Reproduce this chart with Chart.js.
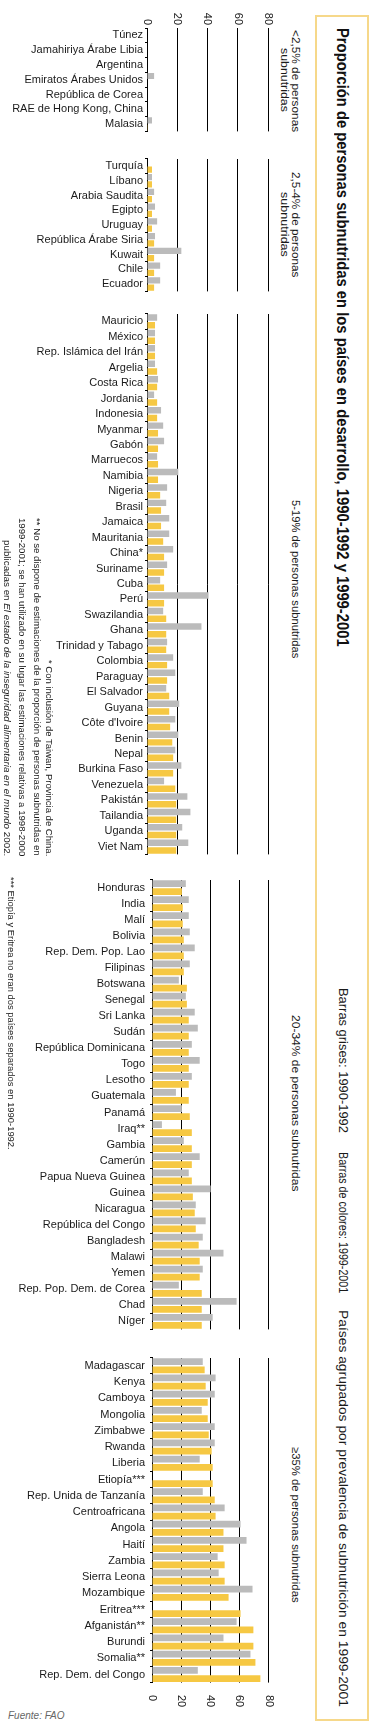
<!DOCTYPE html>
<html>
<head>
<meta charset="utf-8">
<script src="https://cdn.jsdelivr.net/npm/chart.js@4/dist/chart.umd.min.js"></script>
<style>
  html, body { margin: 0; padding: 0; background: #fff; }
  body { position: relative; width: 369px; height: 1725px; overflow: hidden; font-family: "Liberation Sans", Arial, sans-serif; color: #1a1a1a; }
  canvas { position: absolute; left: 0; }
  .vt { position: absolute; writing-mode: vertical-rl; white-space: nowrap; transform-origin: top left; line-height: 1; }
  #box { position: absolute; left: 315px; top: 15px; width: 50px; height: 1702px; border: 2px solid #f6d88a; }
  #src { position: absolute; left: 8px; top: 1710px; font-size: 10px; font-style: italic; color: #666; }
</style>
</head>
<body>
<div id="box"></div>
<div id="src">Fuente: FAO</div>
<canvas id="g1" width="275" height="140" style="top:0px"></canvas>
<canvas id="g2" width="275" height="150" style="top:150px"></canvas>
<canvas id="g3" width="275" height="558" style="top:305px"></canvas>
<canvas id="g4" width="275" height="473" style="top:868px"></canvas>
<canvas id="g5" width="275" height="370" style="top:1346px"></canvas>
<script>
// axis ticks
const xTicks = [0, 20, 40, 60, 80];

// <2,5%
const g1Labels = ['Túnez', 'Jamahiriya Árabe Libia', 'Argentina', 'Emiratos Árabes Unidos', 'República de Corea', 'RAE de Hong Kong, China', 'Malasia'];
const g1Gray = [0, 0, 0, 4.7, 0, 0, 3.3];
const g1Color = [0, 0, 0, 0, 0, 0, 0.5];

// 2,5-4%
const g2Labels = ['Turquía', 'Líbano', 'Arabia Saudita', 'Egipto', 'Uruguay', 'República Árabe Siria', 'Kuwait', 'Chile', 'Ecuador'];
const g2Gray = [0, 3.3, 4.7, 5.3, 6.7, 5.3, 22.7, 8.7, 8.7];
const g2Color = [3.3, 3.3, 3.3, 3.3, 3.3, 4.7, 4.7, 4.7, 4.7];

// 5-19%
const g3Labels = ['Mauricio', 'México', 'Rep. Islámica del Irán', 'Argelia', 'Costa Rica', 'Jordania', 'Indonesia', 'Myanmar', 'Gabón', 'Marruecos',
  'Namibia', 'Nigeria', 'Brasil', 'Jamaica', 'Mauritania', 'China*', 'Suriname', 'Cuba', 'Perú', 'Swazilandia',
  'Ghana', 'Trinidad y Tabago', 'Colombia', 'Paraguay', 'El Salvador', 'Guyana', "Côte d'Ivoire", 'Benin', 'Nepal', 'Burkina Faso',
  'Venezuela', 'Pakistán', 'Tailandia', 'Uganda', 'Viet Nam'];
const g3Gray = [6.7, 5.3, 5.3, 5.3, 7.3, 4.7, 9.3, 10.7, 11.3, 6.7,
  20.7, 13.3, 12.7, 14.7, 14.7, 17.3, 13.3, 8.7, 40.7, 10.7,
  36, 13.3, 17.3, 18.7, 12.7, 21.3, 18.7, 20.7, 18.7, 22.7,
  11.3, 26.7, 28.7, 23.3, 27.3];
const g3Color = [5.3, 5.3, 5.3, 6.7, 6.7, 6.7, 6.7, 7.3, 7.3, 7.3,
  7.3, 8.7, 9.3, 9.3, 10.7, 11.3, 11.3, 11.3, 11.3, 12.7,
  12.7, 12.7, 13.3, 13.3, 14.7, 14.7, 15.3, 16.7, 17.3, 17.3,
  18.7, 19.3, 19.3, 19.3, 19.3];

// 20-34%
const g4Labels = ['Honduras', 'India', 'Malí', 'Bolivia', 'Rep. Dem. Pop. Lao', 'Filipinas', 'Botswana', 'Senegal', 'Sri Lanka', 'Sudán',
  'República Dominicana', 'Togo', 'Lesotho', 'Guatemala', 'Panamá', 'Iraq**', 'Gambia', 'Camerún', 'Papua Nueva Guinea', 'Guinea',
  'Nicaragua', 'República del Congo', 'Bangladesh', 'Malawi', 'Yemen', 'Rep. Pop. Dem. de Corea', 'Chad', 'Níger'];
const g4Gray = [23.2, 25.2, 25.2, 25.9, 29.3, 25.9, 18.4, 23.2, 29.3, 31.4,
  27.3, 32.7, 27.3, 16.4, 20.5, 6.8, 21.8, 32.7, 25.2, 40.2,
  30, 36.8, 34.8, 49, 34.8, 18.4, 58, 41.6];
const g4Color = [20.5, 21.1, 21.1, 21.8, 21.8, 21.8, 23.9, 23.9, 25.2, 25.2,
  25.2, 25.2, 25.2, 25.2, 25.9, 27.3, 27.3, 27.3, 27.3, 28,
  29.3, 30, 32, 32.7, 32.7, 34.1, 34.1, 34.1];

// >=35%
const g5Labels = ['Madagascar', 'Kenya', 'Camboya', 'Mongolia', 'Zimbabwe', 'Rwanda', 'Liberia', 'Etiopía***', 'Rep. Unida de Tanzanía', 'Centroafricana',
  'Angola', 'Haití', 'Zambia', 'Sierra Leona', 'Mozambique', 'Eritrea***', 'Afganistán**', 'Burundi', 'Somalia**', 'Rep. Dem. del Congo'];
const g5Gray = [34.8, 43.6, 43, 34.1, 43, 43, 32.7, null, 34.8, 49.8,
  60.7, 64.8, 45, 45.7, 68.9, null, 58, 49, 67.5, 31.4];
const g5Color = [36.1, 36.8, 38.2, 38.2, 38.9, 40.9, 41.6, 41.6, 43, 43.6,
  49, 49, 49.8, 49.8, 52.5, 60.7, 69.5, 69.5, 70.9, 74.3];

const GRAY = '#bbbbbb';
const YELLOW = '#f6c843';
const FONT = '"Liberation Sans", Arial, sans-serif';

// rotated 0..80 labels, placed with the x scale
const xLabelPlugin = {
  id: 'xLabels',
  afterDraw(chart, args, opts) {
    if (!opts.where) return;
    const ctx = chart.ctx;
    const xs = chart.scales.x;
    ctx.save();
    ctx.font = '11px ' + FONT;
    ctx.fillStyle = '#1a1a1a';
    ctx.textBaseline = 'middle';
    ctx.textAlign = opts.where === 'top' ? 'right' : 'left';
    xTicks.forEach(v => {
      ctx.save();
      ctx.translate(xs.getPixelForValue(v), opts.y);
      ctx.rotate(Math.PI / 2);
      ctx.fillText(String(v), 0, 0);
      ctx.restore();
    });
    ctx.restore();
  }
};

function drawGroup(id, labels, gray, color, o) {
  return new Chart(document.getElementById(id), {
    type: 'bar',
    data: {
      labels: labels,
      datasets: [
        { label: '1990-1992', data: gray, backgroundColor: GRAY, barPercentage: 0.84, categoryPercentage: 1 },
        { label: '1999-2001', data: color, backgroundColor: YELLOW, barPercentage: 0.84, categoryPercentage: 1 }
      ]
    },
    options: {
      indexAxis: 'y',
      responsive: false,
      animation: false,
      layout: { padding: { top: o.top, bottom: o.bottom, left: 0, right: o.right } },
      plugins: {
        legend: { display: false },
        tooltip: { enabled: false },
        xLabels: { where: o.where, y: o.labelY }
      },
      scales: {
        x: {
          position: 'top',
          min: 0,
          max: 80,
          ticks: { display: false, stepSize: 20 },
          grid: { color: '#000', lineWidth: 1, drawTicks: false },
          border: { display: false },
          afterFit: s => { s.height = 0; }
        },
        y: {
          ticks: { autoSkip: false, color: '#1a1a1a', padding: o.pad, font: { family: FONT, size: 11 } },
          grid: { drawOnChartArea: false, tickLength: 2, color: '#000' },
          border: { color: '#000', width: 1 },
          afterFit: s => { s.width = o.axis; }
        }
      }
    },
    plugins: [xLabelPlugin]
  });
}

drawGroup('g1', g1Labels, g1Gray, g1Color, { axis: 147, right: 7, top: 28, bottom: 4, pad: 2, where: 'top', labelY: 25 });
drawGroup('g2', g2Labels, g2Gray, g2Color, { axis: 147, right: 7, top: 5, bottom: 4.5, pad: 2 });
drawGroup('g3', g3Labels, g3Gray, g3Color, { axis: 147, right: 7, top: 5, bottom: 5, pad: 2 });
drawGroup('g4', g4Labels, g4Gray, g4Color, { axis: 152, right: 6.3, top: 4.7, bottom: 4.7, pad: 5 });
drawGroup('g5', g5Labels, g5Gray, g5Color, { axis: 152, right: 6.3, top: 4.7, bottom: 33.4, pad: 5, where: 'bottom', labelY: 349 });

// vertical texts (read top to bottom), stretched to the span they take in the page
function vtext(html, cx, y0, y1, css) {
  const el = document.createElement('div');
  el.className = 'vt';
  el.innerHTML = html;
  Object.assign(el.style, css);
  document.body.appendChild(el);
  const w = el.offsetWidth, h = el.offsetHeight;
  el.style.left = (cx - w / 2) + 'px';
  el.style.top = y0 + 'px';
  el.style.transform = 'scaleY(' + ((y1 - y0) / h) + ')';
}

const titleCss = { fontSize: '16px', fontWeight: 'bold', fontFamily: '"Liberation Sans Narrow", "Liberation Sans", Arial, sans-serif', color: '#111' };
const legCss = { fontSize: '13px', color: '#1a1a1a' };
const grpCss = { fontSize: '11px', color: '#1a1a1a' };
const noteCss = { fontSize: '9.5px', color: '#1a1a1a' };

vtext('Proporción de personas subnutridas en los países en desarrollo, 1990-1992 y 1999-2001', 342, 28, 647, titleCss);
vtext('Barras grises: 1990-1992', 343, 988, 1133, legCss);
vtext('Barras de colores: 1999-2001', 343, 1152, 1293, legCss);
vtext('Países agrupados por prevalencia de subnutrición en 1999-2001', 343, 1310, 1707, legCss);

vtext('&lt;2,5% de personas', 295, 30, 132, grpCss);
vtext('subnutridas', 284, 48, 112, grpCss);
vtext('2,5-4% de personas', 295, 172, 277, grpCss);
vtext('subnutridas', 284, 192, 257, grpCss);
vtext('5-19% de personas subnutridas', 295, 500, 658, grpCss);
vtext('20-34% de personas subnutridas', 295, 1015, 1191, grpCss);
vtext('≥35% de personas subnutridas', 295, 1447, 1603, grpCss);

vtext('* Con inclusión de Taiwan, Provincia de China.', 49.5, 660, 856, noteCss);
vtext('** No se dispone de estimaciones de la proporción de personas subnutridas en', 37, 518, 856, noteCss);
vtext('1999-2001; se han utilizado en su lugar las estimaciones relativas a 1998-2000', 22.5, 518, 856, noteCss);
vtext('publicadas en <i>El estado de la inseguridad alimentaria en el mundo</i> 2002.', 7.5, 540, 856, noteCss);
vtext('*** Etiopía y Eritrea no eran dos países separados en 1990-1992.', 11, 877, 1150, noteCss);
</script>
</body>
</html>
